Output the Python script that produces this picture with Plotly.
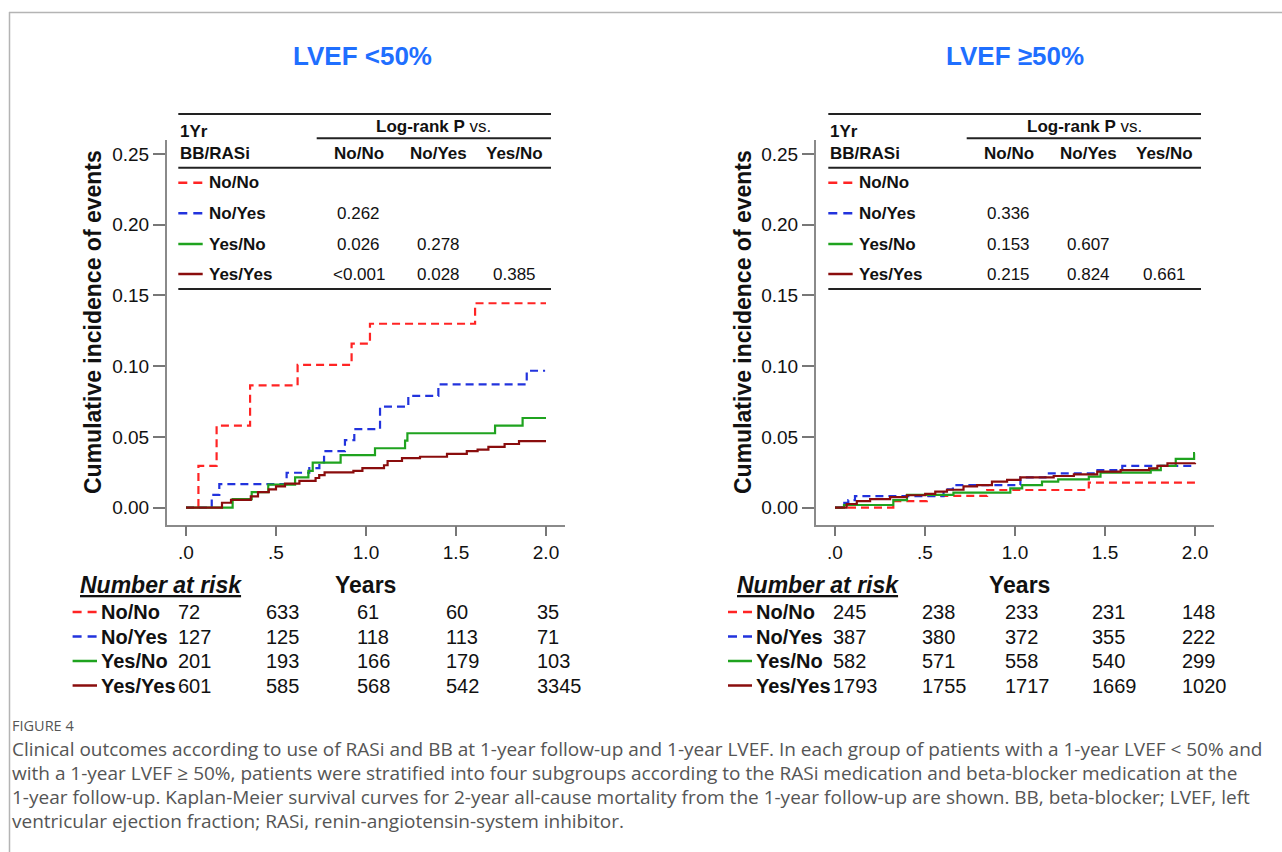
import plotly.graph_objects as go

# ---------------- DATA ----------------
groups = ["No/No", "No/Yes", "Yes/No", "Yes/Yes"]
panel_titles = ["LVEF <50%", "LVEF \u226550%"]
x_tickvals = [0, 0.5, 1.0, 1.5, 2.0]
x_ticktext = [".0", ".5", "1.0", "1.5", "2.0"]
y_tickvals = [0, 0.05, 0.10, 0.15, 0.20, 0.25]
y_ticktext = ["0.00", "0.05", "0.10", "0.15", "0.20", "0.25"]
pval_cols = ["No/No", "No/Yes", "Yes/No"]

# LVEF <50% cumulative incidence (step times in years, values)
left_nono_t = [0, 0.069, 0.17, 0.356, 0.62, 0.92, 1.022, 1.606, 2.0]
left_nono_y = [0, 0.0295, 0.058, 0.0865, 0.101, 0.116, 0.130, 0.1445, 0.1445]
left_noyes_t = [0, 0.143, 0.185, 0.559, 0.685, 0.741, 0.767, 0.883, 0.935, 1.078, 1.235, 1.402, 1.893, 1.995]
left_noyes_y = [0, 0.009, 0.0167, 0.0247, 0.028, 0.032, 0.040, 0.0478, 0.0556, 0.0714, 0.079, 0.0872, 0.0968, 0.0968]
left_yesno_t = [0, 0.259, 0.365, 0.457, 0.606, 0.68, 0.704, 0.859, 1.05, 1.217, 1.23, 1.717, 1.87, 2.0]
left_yesno_y = [0, 0.006, 0.011, 0.0163, 0.0215, 0.026, 0.0318, 0.0372, 0.042, 0.0474, 0.0526, 0.058, 0.0634, 0.0634]
left_yesyes_t = [0, 0.20, 0.25, 0.36, 0.40, 0.46, 0.50, 0.55, 0.63, 0.72, 0.74, 0.77, 0.93, 0.98, 1.10, 1.12,
                 1.20, 1.30, 1.45, 1.56, 1.62, 1.68, 1.77, 1.85, 2.0]
left_yesyes_y = [0, 0.0035, 0.0055, 0.008, 0.011, 0.013, 0.015, 0.017, 0.019, 0.021, 0.023, 0.025, 0.026, 0.028,
                 0.030, 0.033, 0.035, 0.036, 0.038, 0.040, 0.041, 0.043, 0.045, 0.047, 0.047]

# LVEF >=50% cumulative incidence
right_nono_t = [0, 0.324, 0.51, 0.845, 1.41, 2.0]
right_nono_y = [0, 0.0047, 0.0083, 0.0125, 0.0177, 0.0177]
right_noyes_t = [0, 0.037, 0.074, 0.111, 0.603, 0.655, 1.03, 1.169, 1.448, 1.596, 2.0]
right_noyes_y = [0, 0.0034, 0.0053, 0.0082, 0.013, 0.016, 0.0214, 0.0242, 0.0266, 0.0295, 0.0295]
right_yesno_t = [0, 0.05, 0.324, 0.40, 0.658, 0.974, 1.04, 1.15, 1.24, 1.41, 1.475, 1.754, 1.81, 1.893, 1.995, 2.0]
right_yesno_y = [0, 0.0019, 0.0054, 0.009, 0.0106, 0.0137, 0.016, 0.0184, 0.020, 0.0219, 0.0248, 0.0266, 0.0295,
                 0.0345, 0.0385, 0.0385]
right_yesyes_t = [0, 0.065, 0.121, 0.195, 0.306, 0.399, 0.501, 0.557, 0.622, 0.714, 0.789, 0.872, 0.956, 1.03,
                  1.215, 1.327, 1.457, 1.587, 1.745, 1.791, 1.847, 2.0]
right_yesyes_y = [0, 0.0026, 0.0047, 0.006, 0.0075, 0.0088, 0.0097, 0.0114, 0.0127, 0.015, 0.016, 0.0184, 0.0196,
                  0.0215, 0.0224, 0.0236, 0.0255, 0.0266, 0.0278, 0.0295, 0.0314, 0.0318]

# Log-rank P values (row group vs column group)
left_p_noyes = ["0.262", "", ""]
left_p_yesno = ["0.026", "0.278", ""]
left_p_yesyes = ["<0.001", "0.028", "0.385"]
right_p_noyes = ["0.336", "", ""]
right_p_yesno = ["0.153", "0.607", ""]
right_p_yesyes = ["0.215", "0.824", "0.661"]

# Number at risk
left_risk_nono = [72, 633, 61, 60, 35]
left_risk_noyes = [127, 125, 118, 113, 71]
left_risk_yesno = [201, 193, 166, 179, 103]
left_risk_yesyes = [601, 585, 568, 542, 3345]
right_risk_nono = [245, 238, 233, 231, 148]
right_risk_noyes = [387, 380, 372, 355, 222]
right_risk_yesno = [582, 571, 558, 540, 299]
right_risk_yesyes = [1793, 1755, 1717, 1669, 1020]

caption_label = "FIGURE 4"
caption_lines = [
    "Clinical outcomes according to use of RASi and BB at 1-year follow-up and 1-year LVEF. In each group of patients with a 1-year LVEF < 50% and",
    "with a 1-year LVEF \u2265 50%, patients were stratified into four subgroups according to the RASi medication and beta-blocker medication at the",
    "1-year follow-up. Kaplan-Meier survival curves for 2-year all-cause mortality from the 1-year follow-up are shown. BB, beta-blocker; LVEF, left",
    "ventricular ejection fraction; RASi, renin-angiotensin-system inhibitor.",
]

# ---------------- STYLE / LAYOUT ----------------
W, H = 1282, 852
FONT = "Liberation Sans, Arial, sans-serif"
CAP_FONT = "Open Sans, sans-serif"
colors = ["#ff2424", "#2233dd", "#1fa31f", "#8a0d0d"]
dashes = ["8px,5px", "8px,5px", "solid", "solid"]
LW = 2.2


def PX(x):
    return x / W


def PY(y):
    return 1 - y / H


fig = go.Figure()

left_series = [(left_nono_t, left_nono_y), (left_noyes_t, left_noyes_y),
               (left_yesno_t, left_yesno_y), (left_yesyes_t, left_yesyes_y)]
right_series = [(right_nono_t, right_nono_y), (right_noyes_t, right_noyes_y),
                (right_yesno_t, right_yesno_y), (right_yesyes_t, right_yesyes_y)]

for i, (t, y) in enumerate(left_series):
    fig.add_trace(go.Scatter(x=t, y=y, mode="lines", line_shape="hv", xaxis="x", yaxis="y",
                             line=dict(color=colors[i], width=LW, dash=dashes[i]),
                             name=groups[i], showlegend=False, hoverinfo="skip"))
for i, (t, y) in enumerate(right_series):
    fig.add_trace(go.Scatter(x=t, y=y, mode="lines", line_shape="hv", xaxis="x2", yaxis="y2",
                             line=dict(color=colors[i], width=LW, dash=dashes[i]),
                             name=groups[i], showlegend=False, hoverinfo="skip"))

# axis geometry (pixels)
ax_top, ax_bot = 140, 524.5
y0_px, y_scale = 507.7, 1415.0
y_range = [(y0_px - ax_bot) / y_scale, (y0_px - ax_top) / y_scale]
panels = [dict(x0=166.7, x1=565.0, zero=186.0), dict(x0=815.7, x1=1213.5, zero=835.0)]
x_scale = 180.0

axis_common_x = dict(tickvals=x_tickvals, ticktext=x_ticktext, ticks="outside", ticklen=10, tickwidth=1.5,
                     tickcolor="#777", showline=True, linecolor="#8a8a8a", linewidth=1.5, showgrid=False,
                     zeroline=False, tickfont=dict(size=19, color="#111", family=FONT), fixedrange=True)
axis_common_y = dict(tickvals=y_tickvals, ticktext=y_ticktext, ticks="outside", ticklen=12, tickwidth=1.5,
                     tickcolor="#777", showline=True, linecolor="#8a8a8a", linewidth=1.5, showgrid=False,
                     zeroline=False, tickfont=dict(size=19, color="#111", family=FONT), range=y_range,
                     fixedrange=True)

layout_axes = {}
for k, p in enumerate(panels):
    xr = [(p["x0"] - p["zero"]) / x_scale, (p["x1"] - p["zero"]) / x_scale]
    sx = "" if k == 0 else "2"
    layout_axes["xaxis" + sx] = dict(axis_common_x, domain=[PX(p["x0"]), PX(p["x1"])], range=xr,
                                     anchor="y" + sx)
    layout_axes["yaxis" + sx] = dict(axis_common_y, domain=[PY(ax_bot), PY(ax_top)], anchor="x" + sx)

annotations = []
shapes = []


def txt(x, y, s, size, xanchor="left", color="#111", family=FONT, angle=0):
    annotations.append(dict(x=PX(x), y=PY(y), xref="paper", yref="paper", text=s, showarrow=False,
                            xanchor=xanchor, yanchor="middle", textangle=angle,
                            font=dict(size=size, color=color, family=family)))


def hline(x0, x1, y, color="#222", width=2, dash="solid"):
    shapes.append(dict(type="line", xref="paper", yref="paper", x0=PX(x0), x1=PX(x1), y0=PY(y), y1=PY(y),
                       line=dict(color=color, width=width, dash=dash)))


# frame
hline(9, W, 12.5, color="#b4b4b4", width=1.5)
shapes.append(dict(type="line", xref="paper", yref="paper", x0=PX(9.5), x1=PX(9.5), y0=PY(12), y1=0,
                   line=dict(color="#b4b4b4", width=1.5)))

pv_rows = [[None, left_p_noyes, left_p_yesno, left_p_yesyes],
           [None, right_p_noyes, right_p_yesno, right_p_yesyes]]
risk_rows = [[left_risk_nono, left_risk_noyes, left_risk_yesno, left_risk_yesyes],
             [right_risk_nono, right_risk_noyes, right_risk_yesno, right_risk_yesyes]]

title_x = [362, 1015]
ytitle_x = [93, 743]
table_off = [0, 650]
row_y = [182.7, 213.3, 244, 274]
col_x = [358.5, 438, 514]
risk_leg = [(72.6, 97, 101), (728, 752, 756)]
risk_num_x = [[178, 266, 357, 446, 537], [833, 921.7, 1005, 1091.7, 1181.7]]
risk_head = [(78, 365), (735, 1019)]
risk_row_y = [612, 636.5, 661, 685.5]

for k in range(2):
    o = table_off[k]
    txt(title_x[k], 56, "<b>" + panel_titles[k] + "</b>", 26, xanchor="center", color="#1f6fff")
    txt(ytitle_x[k], 322, "<b>Cumulative incidence of events</b>", 23, xanchor="center", angle=-90)
    # table lines
    hline(178.3 + o, 551 + o, 114)
    hline(316.7 + o, 551 + o, 138.3)
    hline(178.3 + o, 551 + o, 167.7)
    hline(178.3 + o, 551 + o, 289)
    txt(178 + o, 131.5, "<b>1Yr</b>", 17)
    txt(178 + o, 153.3, "<b>BB/RASi</b>", 17)
    txt(434 + o, 126, "<b>Log-rank P</b> vs.", 17, xanchor="center")
    for j, c in enumerate(pval_cols):
        txt(col_x[j] + o, 153.3, "<b>" + c + "</b>", 17, xanchor="center")
    for r in range(4):
        hline(178.3 + o, 202.7 + o, row_y[r], color=colors[r], width=2.5,
              dash="9px,6px" if dashes[r] != "solid" else "solid")
        txt(207 + o, row_y[r], "<b>" + groups[r] + "</b>", 17)
        if pv_rows[k][r]:
            for j, v in enumerate(pv_rows[k][r]):
                if v:
                    txt(col_x[j] + o, row_y[r], v, 17, xanchor="center")
    # number at risk
    txt(risk_head[k][0], 585, "<b><i><u>Number at risk</u></i></b>", 23)
    txt(risk_head[k][1], 585, "<b>Years</b>", 23, xanchor="center")
    lx0, lx1, lt = risk_leg[k]
    for r in range(4):
        hline(lx0, lx1, risk_row_y[r], color=colors[r], width=2.5,
              dash="9px,6px" if dashes[r] != "solid" else "solid")
        txt(lt - 2, risk_row_y[r], "<b>" + groups[r] + "</b>", 20)
        for j, n in enumerate(risk_rows[k][r]):
            txt(risk_num_x[k][j] - 2, risk_row_y[r], str(n), 20)

# caption
txt(10, 725, caption_label, 14.5, color="#555", family=CAP_FONT)
for i, line in enumerate(caption_lines):
    txt(10, 749 + 24 * i, line.replace("<", "&lt;"), 19, color="#555", family=CAP_FONT)

fig.update_layout(width=W, height=H, margin=dict(l=0, r=0, t=0, b=0), paper_bgcolor="white",
                  plot_bgcolor="white", showlegend=False, annotations=annotations, shapes=shapes,
                  font=dict(family=FONT), **layout_axes)

fig.write_html("out.html", config={"displayModeBar": False})
